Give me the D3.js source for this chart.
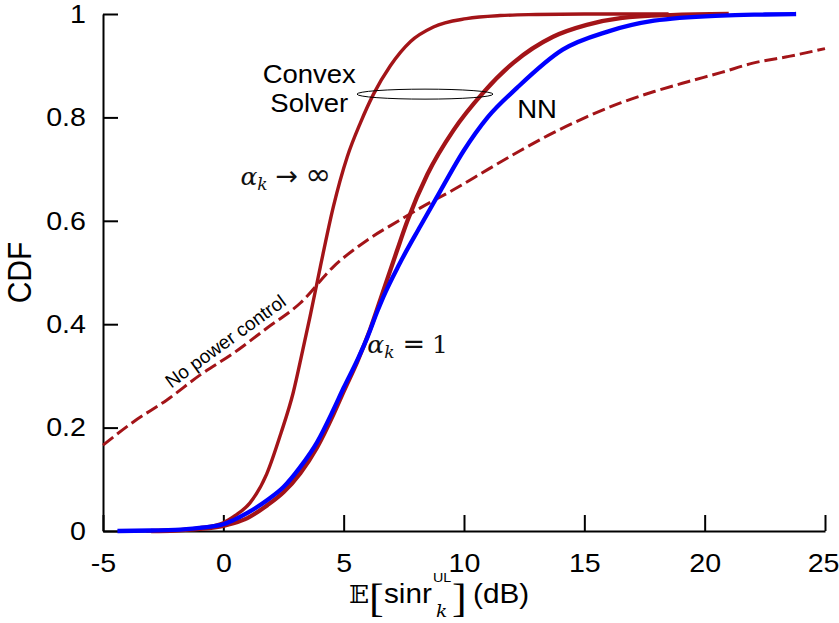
<!DOCTYPE html>
<html>
<head>
<meta charset="utf-8">
<script src="https://cdn.jsdelivr.net/npm/d3@7"></script>
<style>
body{margin:0;background:#fff;}
text{font-family:"Liberation Sans", Arial, sans-serif;}
</style>
</head>
<body>
<svg id="chart" width="839" height="623"></svg>
<script>
const xTicks = [-5, 0, 5, 10, 15, 20, 25];
const yTicks = [0, 0.2, 0.4, 0.6, 0.8, 1];

// alpha_k -> infinity (convex solver)
const snrInf = [-3.2, -2, -1, 0, 0.5, 1.1, 1.8, 2.4, 2.9, 3.3, 3.6, 4.03, 4.57, 5.15, 5.7, 6.24, 6.94, 7.78, 8.73, 10.1, 11.5, 13, 15, 18.5];
const cdfInf = [0, 0.002, 0.006, 0.016, 0.03, 0.054, 0.11, 0.19, 0.267, 0.35, 0.414, 0.511, 0.627, 0.724, 0.79, 0.845, 0.9, 0.947, 0.975, 0.991, 0.997, 0.999, 1, 1];

// alpha_k = 1 (convex solver)
const snrOne = [-3.0, -2, -1, 0, 0.42, 1.0, 1.83, 2.5, 3.2, 3.9, 4.57, 5.0, 5.57, 6.1, 6.65, 7.2, 7.65, 8.48, 9.56, 10.8, 12.06, 13.7, 15.1, 16.5, 18.6, 21];
const cdfOne = [0, 0.001, 0.004, 0.01, 0.015, 0.025, 0.05, 0.075, 0.112, 0.162, 0.225, 0.27, 0.328, 0.39, 0.465, 0.54, 0.6, 0.69, 0.775, 0.848, 0.906, 0.956, 0.979, 0.992, 0.998, 1];

// NN
const snrNN = [-4.4, -3, -2, -1, 0, 0.42, 1.0, 1.83, 2.5, 3.2, 3.9, 4.57, 5.0, 5.57, 5.99, 6.4, 6.65, 7.3, 8.19, 9.02, 9.98, 10.98, 12.2, 14.1, 15.97, 17.9, 20.7, 22.5, 23.8];
const cdfNN = [0, 0.001, 0.002, 0.006, 0.013, 0.021, 0.035, 0.06, 0.085, 0.124, 0.172, 0.234, 0.277, 0.331, 0.375, 0.425, 0.453, 0.515, 0.59, 0.658, 0.735, 0.8, 0.857, 0.931, 0.966, 0.987, 0.997, 0.999, 1];

// no power control
const snrNoPc = [-5, -3.74, -2.33, -0.96, 0.42, 1.83, 3.2, 4.57, 5.99, 7.36, 8.19, 9.56, 10.98, 12.35, 13.7, 15.1, 16.5, 17.9, 19.3, 20.7, 22.0, 23.5, 25];
const cdfNoPc = [0.166, 0.211, 0.254, 0.302, 0.344, 0.393, 0.441, 0.511, 0.563, 0.602, 0.625, 0.66, 0.699, 0.736, 0.77, 0.801, 0.828, 0.85, 0.869, 0.887, 0.905, 0.918, 0.933];

const darkRed = "#a31418";
const sx = 1.1; // glyphs in the original are a bit wide
const margin = {top: 14, right: 14, bottom: 92, left: 103};

var svg = d3.select("#chart");
var width = +svg.attr("width");
var height = +svg.attr("height");

var x = d3.scaleLinear()
	.domain([-5, 25])
	.range([margin.left, width - margin.right]);
var y = d3.scaleLinear()
	.domain([0, 1])
	.range([height - margin.bottom, margin.top]);

//axes, ticks pointing inward
var xAxis = d3.axisBottom(x)
	.tickValues(xTicks)
	.tickFormat(d => String(d))
	.tickSizeInner(-16)
	.tickSizeOuter(0)
	.tickPadding(23);
var yAxis = d3.axisLeft(y)
	.tickValues(yTicks)
	.tickFormat(d => String(d))
	.tickSizeInner(-15)
	.tickSizeOuter(0)
	.tickPadding(15.5);

var gx = svg.append("g")
	.attr("transform", "translate(0," + y(0) + ")")
	.call(xAxis);
var gy = svg.append("g")
	.attr("transform", "translate(" + x(-5) + ",0)")
	.call(yAxis);
[gx, gy].forEach(function(g){
	g.selectAll("path, line").attr("stroke", "#000").attr("stroke-width", 2);
	g.selectAll("text").style("font-size", "26px").attr("fill", "#000")
		.attr("transform", "scale(" + sx + ",1)")
		.style("font-family", "'Liberation Sans', Arial, sans-serif");
});
//last x label sits on the edge, keep it inside
gx.selectAll(".tick text").filter(d => d == 25)
	.attr("text-anchor", "end").attr("x", 14 / sx);

//curves
function drawCurve(xs, ys, color, w, dash){
	var pts = xs.map((d, i) => [d, ys[i]]);
	svg.append("path")
		.datum(pts)
		.attr("fill", "none")
		.attr("stroke", color)
		.attr("stroke-width", w)
		.attr("stroke-linejoin", "round")
		.attr("stroke-dasharray", dash || null)
		.attr("d", d3.line()
			.curve(d3.curveMonotoneX)
			.x(d => x(d[0]))
			.y(d => y(d[1])));
}

drawCurve(snrNoPc, cdfNoPc, darkRed, 3, "13,5");
drawCurve(snrInf, cdfInf, darkRed, 3.4);
drawCurve(snrOne, cdfOne, darkRed, 4.3);
drawCurve(snrNN, cdfNN, "#0000ff", 4.3);

//text helper
function label(px, py, txt, size, anchor){
	return svg.append("text")
		.attr("transform", "translate(" + px + "," + py + ") scale(" + sx + ",1)")
		.attr("text-anchor", anchor || "start")
		.style("font-size", size + "px")
		.text(txt);
}

//annotations
svg.append("ellipse")
	.attr("cx", x(8.38)).attr("cy", y(0.845))
	.attr("rx", 68).attr("ry", 5)
	.attr("fill", "none").attr("stroke", "#000").attr("stroke-width", 1);

label(x(3.57), y(0.867), "Convex", 25, "middle");
label(x(3.57), y(0.811), "Solver", 25, "middle");
label(x(12.21), y(0.799), "NN", 25);

function mathLabel(px, py, op, opSize, rhs, rhsFont, rhsSize){
	var t = svg.append("text").attr("x", px).attr("y", py)
		.style("font-family", "'DejaVu Serif', serif")
		.style("font-size", "25px").attr("fill", "#111");
	t.append("tspan").style("font-style", "italic").text("α");
	t.append("tspan").style("font-style", "italic").style("font-size", "17px")
		.attr("dy", 5).text("k");
	t.append("tspan").attr("dy", -5).attr("dx", 8)
		.style("font-family", "'DejaVu Sans', sans-serif").style("font-size", opSize + "px").text(op);
	t.append("tspan").attr("dx", 7)
		.style("font-family", rhsFont).style("font-size", rhsSize + "px").text(rhs);
}
mathLabel(x(0.71), y(0.669), "→", 27, "∞", "'DejaVu Sans', sans-serif", 31);
mathLabel(x(5.98), y(0.344), "=", 27, "1", "'DejaVu Serif', serif", 25);

svg.append("text")
	.attr("transform", "translate(" + x(0.25) + "," + y(0.357) + ") rotate(-36)")
	.attr("text-anchor", "middle")
	.style("font-size", "19px")
	.text("No power control");

//y label
svg.append("text")
	.attr("transform", "translate(31," + y(0.5) + ") scale(1.12,1) rotate(-90)")
	.attr("text-anchor", "middle")
	.style("font-size", "30px")
	.text("CDF");

//x label: one text, pieces placed as tspans
var xl = svg.append("text").attr("transform", "scale(" + sx + ",1)");
function piece(px, py, txt, size, family, extra){
	var s = xl.append("tspan").attr("x", px / sx).attr("y", py)
		.style("font-size", size + "px").text(txt);
	if(family) s.style("font-family", family);
	if(extra) extra(s);
	return s;
}
piece(349, 603, "𝔼", 24, "'DejaVu Serif', serif");
piece(369, 612, "[", 40, "'Liberation Serif', serif");
piece(384, 603, "sinr", 27);
piece(433, 582, "UL", 13);
piece(436, 617, "k", 17, "'DejaVu Serif', serif", s => s.style("font-style", "italic"));
piece(452, 612, "]", 40, "'Liberation Serif', serif");
piece(473, 603, "(dB)", 27);
</script>
</body>
</html>
